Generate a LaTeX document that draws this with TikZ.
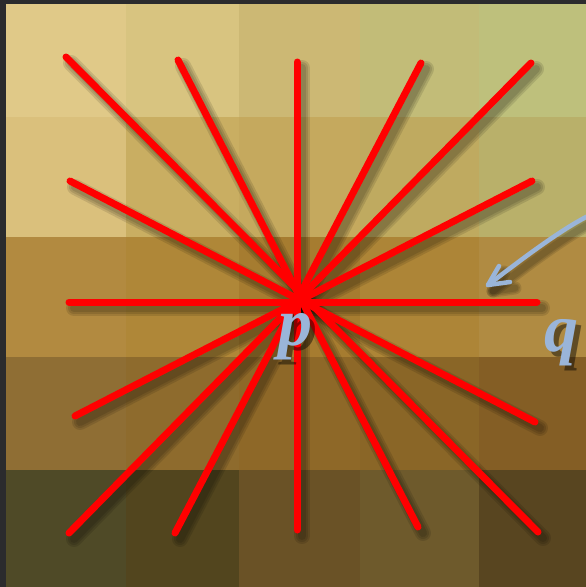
\documentclass[tikz,border=0pt]{standalone}
\usepackage{fontspec}
\setmainfont{Liberation Serif}
\definecolor{PXframe}{HTML}{2B2B2D}
\definecolor{PXred}{HTML}{FF0000}
\definecolor{PXsky}{HTML}{9AB5D9}
% tiles, row/column
\definecolor{T11}{HTML}{E0C988}
\definecolor{T12}{HTML}{D8C480}
\definecolor{T13}{HTML}{CCB874}
\definecolor{T14}{HTML}{C2BC78}
\definecolor{T15}{HTML}{BEC07C}
\definecolor{T21}{HTML}{DAC07C}
\definecolor{T22}{HTML}{C9AE62}
\definecolor{T23}{HTML}{C5A95E}
\definecolor{T24}{HTML}{BFAA60}
\definecolor{T25}{HTML}{B9B06A}
\definecolor{T31}{HTML}{B28A40}
\definecolor{T32}{HTML}{AF8738}
\definecolor{T33}{HTML}{A67C30}
\definecolor{T34}{HTML}{AD8537}
\definecolor{T35}{HTML}{B08B42}
\definecolor{T41}{HTML}{8F6E34}
\definecolor{T42}{HTML}{8E6B2D}
\definecolor{T43}{HTML}{8E6828}
\definecolor{T44}{HTML}{8A6627}
\definecolor{T45}{HTML}{845E25}
\definecolor{T51}{HTML}{4F4A27}
\definecolor{T52}{HTML}{52451E}
\definecolor{T53}{HTML}{6A5226}
\definecolor{T54}{HTML}{6E5A2C}
\definecolor{T55}{HTML}{584520}
\newcommand{\raylist}{66/57/538/532, 178/60/418/527, 297/62/297/530,
  421/63/175/533, 531/63/69/533, 70/181/535/422, 532/181/75/416,
  69/302/537/302}
% pointer shaft plus its two barbs, shifted by #2
\newcommand{\pointerpath}[2][]{%
  \draw[#1] ([shift={#2}]qfrom) .. controls ([shift={#2}]560,230) and ([shift={#2}]518,262) .. ([shift={#2}]qto);
  \draw[#1] ([shift={#2}]qbarbup) -- ([shift={#2}]qto) -- ([shift={#2}]qbarblow);}

\begin{document}
\begin{tikzpicture}[
  x=1pt,y=-1pt,
  line cap=round,line join=round,
  ray/.style={draw=PXred,line width=7pt},
  drop/.style={draw=black,opacity=0.11},
  pointer/.style={draw=PXsky,line width=4.5pt},
  letter/.style={font=\bfseries\itshape\fontsize{68}{70}\selectfont,
    text=PXsky,inner sep=0pt,anchor=base}
]
\useasboundingbox (0,0) rectangle (586,587);
\clip (0,0) rectangle (586,587);
\fill[PXframe] (0,0) rectangle (586,587);

% background tiles
\foreach \ya/\yb [count=\r] in {4/117,117/237,237/357,357/470,470/587}
  \foreach \xa/\xb [count=\c] in {6/126,126/239,239/360,360/479,479/586}
    \fill[T\r\c] (\xa,\ya) rectangle (\xb,\yb);

\coordinate (qfrom) at (588,216);
\coordinate (qto) at (488,285);
\coordinate (qbarbup) at (499,266);
\coordinate (qbarblow) at (510,282);

% soft shadows first
\foreach \ax/\ay/\bx/\by in \raylist {
  \foreach \w in {16,12,8}
    \draw[drop,line width=\w pt] (\ax+5,\ay+6) -- (\bx+5,\by+6);
}
\foreach \w in {13,10,7} {
  \pointerpath[drop,line width=\w pt]{(5,6)}
}

% red star around p
\foreach \ax/\ay/\bx/\by in \raylist
  \draw[ray] (\ax,\ay) -- (\bx,\by);

\pointerpath[pointer]{(0,0)}

\node[letter,text=black,opacity=0.45] (pshade) at (300,350) {p};
\node[letter,text=black,opacity=0.45] (qshade) at (566,356) {q};
\node[letter] (p) at (295,345) {p};
\node[letter] (q) at (561,351) {q};
\end{tikzpicture}
\end{document}
